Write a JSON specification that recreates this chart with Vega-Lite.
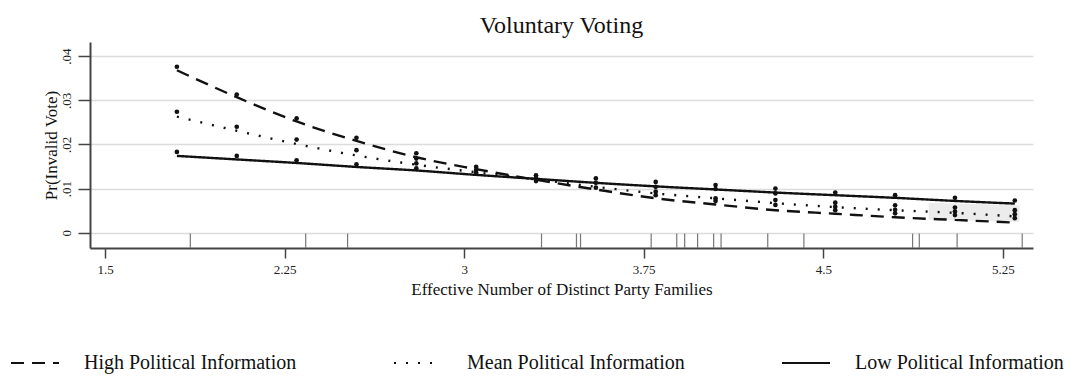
{
  "$schema": "https://vega.github.io/schema/vega-lite/v6.json",
  "width": 943,
  "height": 206,
  "autosize": {"type": "none"},
  "padding": {"left": 90, "top": 42, "right": 41, "bottom": 128},
  "background": "white",
  "title": {"text": "Voluntary Voting", "font": "Liberation Serif", "fontSize": 24, "fontWeight": "normal", "color": "#111", "anchor": "middle", "offset": 4},
  "config": {
    "view": {"stroke": null},
    "axis": {"labelFont": "Liberation Serif", "titleFont": "Liberation Serif", "labelColor": "#222", "titleColor": "#111", "titleFontWeight": "normal", "domainColor": "#444", "domainWidth": 2, "tickColor": "#444", "tickWidth": 1.5},
    "legend": {"labelFont": "Liberation Serif"}
  },
  "datasets": {
    "lines": [
      {"x": 1.8, "v": 0.0368, "s": "High Political Information"},
      {"x": 2.05, "v": 0.0307, "s": "High Political Information"},
      {"x": 2.3, "v": 0.0252, "s": "High Political Information"},
      {"x": 2.55, "v": 0.0208, "s": "High Political Information"},
      {"x": 2.8, "v": 0.0171, "s": "High Political Information"},
      {"x": 3.05, "v": 0.0144, "s": "High Political Information"},
      {"x": 3.3, "v": 0.0120, "s": "High Political Information"},
      {"x": 3.55, "v": 0.0098, "s": "High Political Information"},
      {"x": 3.8, "v": 0.0078, "s": "High Political Information"},
      {"x": 4.05, "v": 0.0064, "s": "High Political Information"},
      {"x": 4.3, "v": 0.0051, "s": "High Political Information"},
      {"x": 4.55, "v": 0.0043, "s": "High Political Information"},
      {"x": 4.8, "v": 0.0035, "s": "High Political Information"},
      {"x": 5.05, "v": 0.0029, "s": "High Political Information"},
      {"x": 5.3, "v": 0.0023, "s": "High Political Information"},
      {"x": 1.8, "v": 0.0263, "s": "Mean Political Information"},
      {"x": 2.05, "v": 0.0231, "s": "Mean Political Information"},
      {"x": 2.3, "v": 0.0201, "s": "Mean Political Information"},
      {"x": 2.55, "v": 0.0175, "s": "Mean Political Information"},
      {"x": 2.8, "v": 0.0154, "s": "Mean Political Information"},
      {"x": 3.05, "v": 0.0137, "s": "Mean Political Information"},
      {"x": 3.3, "v": 0.0121, "s": "Mean Political Information"},
      {"x": 3.55, "v": 0.0104, "s": "Mean Political Information"},
      {"x": 3.8, "v": 0.0089, "s": "Mean Political Information"},
      {"x": 4.05, "v": 0.0078, "s": "Mean Political Information"},
      {"x": 4.3, "v": 0.0067, "s": "Mean Political Information"},
      {"x": 4.55, "v": 0.0058, "s": "Mean Political Information"},
      {"x": 4.8, "v": 0.0051, "s": "Mean Political Information"},
      {"x": 5.05, "v": 0.0045, "s": "Mean Political Information"},
      {"x": 5.3, "v": 0.0037, "s": "Mean Political Information"},
      {"x": 1.8, "v": 0.0174, "s": "Low Political Information"},
      {"x": 2.05, "v": 0.0166, "s": "Low Political Information"},
      {"x": 2.3, "v": 0.0158, "s": "Low Political Information"},
      {"x": 2.55, "v": 0.0149, "s": "Low Political Information"},
      {"x": 2.8, "v": 0.0141, "s": "Low Political Information"},
      {"x": 3.05, "v": 0.0131, "s": "Low Political Information"},
      {"x": 3.3, "v": 0.0122, "s": "Low Political Information"},
      {"x": 3.55, "v": 0.0113, "s": "Low Political Information"},
      {"x": 3.8, "v": 0.0105, "s": "Low Political Information"},
      {"x": 4.05, "v": 0.0098, "s": "Low Political Information"},
      {"x": 4.3, "v": 0.0091, "s": "Low Political Information"},
      {"x": 4.55, "v": 0.0085, "s": "Low Political Information"},
      {"x": 4.8, "v": 0.0079, "s": "Low Political Information"},
      {"x": 5.05, "v": 0.0072, "s": "Low Political Information"},
      {"x": 5.3, "v": 0.0066, "s": "Low Political Information"}
    ],
    "dots": [
      {"x": 1.8, "v": 0.0376}, {"x": 1.8, "v": 0.0274}, {"x": 1.8, "v": 0.0183},
      {"x": 2.05, "v": 0.0313}, {"x": 2.05, "v": 0.0240}, {"x": 2.05, "v": 0.0174},
      {"x": 2.3, "v": 0.0259}, {"x": 2.3, "v": 0.0211}, {"x": 2.3, "v": 0.0164},
      {"x": 2.55, "v": 0.0215}, {"x": 2.55, "v": 0.0187}, {"x": 2.55, "v": 0.0155},
      {"x": 2.8, "v": 0.0180}, {"x": 2.8, "v": 0.0168}, {"x": 2.8, "v": 0.0157}, {"x": 2.8, "v": 0.0146},
      {"x": 3.05, "v": 0.0149}, {"x": 3.05, "v": 0.0142}, {"x": 3.05, "v": 0.0136},
      {"x": 3.3, "v": 0.0130}, {"x": 3.3, "v": 0.0124}, {"x": 3.3, "v": 0.0117},
      {"x": 3.55, "v": 0.0123}, {"x": 3.55, "v": 0.0113}, {"x": 3.55, "v": 0.0102},
      {"x": 3.8, "v": 0.0115}, {"x": 3.8, "v": 0.0104}, {"x": 3.8, "v": 0.0093}, {"x": 3.8, "v": 0.0085},
      {"x": 4.05, "v": 0.0108}, {"x": 4.05, "v": 0.0099}, {"x": 4.05, "v": 0.0078}, {"x": 4.05, "v": 0.0072},
      {"x": 4.3, "v": 0.0100}, {"x": 4.3, "v": 0.0089}, {"x": 4.3, "v": 0.0074}, {"x": 4.3, "v": 0.0063},
      {"x": 4.55, "v": 0.0091}, {"x": 4.55, "v": 0.0068}, {"x": 4.55, "v": 0.0059}, {"x": 4.55, "v": 0.0051},
      {"x": 4.8, "v": 0.0085}, {"x": 4.8, "v": 0.0062}, {"x": 4.8, "v": 0.0052}, {"x": 4.8, "v": 0.0044},
      {"x": 5.05, "v": 0.0079}, {"x": 5.05, "v": 0.0057}, {"x": 5.05, "v": 0.0048}, {"x": 5.05, "v": 0.0040},
      {"x": 5.3, "v": 0.0073}, {"x": 5.3, "v": 0.0051}, {"x": 5.3, "v": 0.0042}, {"x": 5.3, "v": 0.0033}
    ],
    "rug": [
      {"x": 1.856}, {"x": 2.338}, {"x": 2.513}, {"x": 3.323}, {"x": 3.469}, {"x": 3.486},
      {"x": 3.781}, {"x": 3.888}, {"x": 3.921}, {"x": 3.975}, {"x": 4.042}, {"x": 4.073},
      {"x": 4.268}, {"x": 4.419}, {"x": 4.873}, {"x": 4.901}, {"x": 5.059}, {"x": 5.331}
    ],
    "band": [
      {"x": 4.94, "lo": 0.0030, "hi": 0.0068},
      {"x": 5.32, "lo": 0.0024, "hi": 0.0062}
    ]
  },
  "layer": [
    {
      "data": {"name": "band"},
      "mark": {"type": "area", "color": "#ececec"},
      "encoding": {
        "x": {"field": "x", "type": "quantitative", "scale": {"domain": [1.437, 5.376], "nice": false, "zero": false},
          "axis": {"values": [1.5, 2.25, 3, 3.75, 4.5, 5.25], "labelExpr": "format(datum.value, '~g')", "grid": false, "tickSize": 10, "labelPadding": 5, "labelFontSize": 13, "title": "Effective Number of Distinct Party Families", "titleFontSize": 17, "titlePadding": 5}},
        "y": {"field": "lo", "type": "quantitative", "scale": {"domain": [-0.00346, 0.0432], "nice": false, "zero": false},
          "axis": {"values": [0, 0.01, 0.02, 0.03, 0.04], "labelExpr": "datum.value == 0 ? '0' : replace(format(datum.value, '.2f'), '0.', '.')", "grid": true, "gridColor": "#dcdcdc", "gridWidth": 1.5, "tickSize": 12, "labelPadding": 5, "labelAngle": -90, "labelAlign": "center", "labelBaseline": "bottom", "labelFontSize": 13, "title": "Pr(Invalid Vote)", "titleFontSize": 17, "titlePadding": 0}},
        "y2": {"field": "hi"}
      }
    },
    {
      "data": {"name": "rug"},
      "mark": {"type": "rule", "color": "#777", "strokeWidth": 1.2},
      "encoding": {
        "x": {"field": "x", "type": "quantitative"},
        "y": {"datum": -0.0002},
        "y2": {"datum": -0.00346}
      }
    },
    {
      "data": {"name": "lines"},
      "mark": {"type": "line", "color": "#111", "strokeWidth": 2.4, "interpolate": "monotone"},
      "encoding": {
        "x": {"field": "x", "type": "quantitative"},
        "y": {"field": "v", "type": "quantitative"},
        "detail": {"field": "s"},
        "strokeDash": {"field": "s", "type": "nominal",
          "scale": {"domain": ["High Political Information", "Mean Political Information", "Low Political Information"], "range": [[13, 8], [2, 10], [1, 0]]},
          "legend": {"orient": "none", "legendX": -80, "legendY": 296, "direction": "horizontal", "columns": 3, "columnPadding": 93, "title": null, "symbolType": "stroke", "symbolSize": 2304, "symbolStrokeWidth": 1.8, "symbolStrokeColor": "#111", "labelFontSize": 20, "labelColor": "#111", "labelOffset": 24, "labelLimit": 400, "padding": 0,
            "encode": {"symbols": {"enter": {"strokeDash": {"signal": "datum.value == 'High Political Information' ? [7, 6] : datum.value == 'Mean Political Information' ? [1.5, 5] : [1, 0]"}}, "update": {"strokeDash": {"signal": "datum.value == 'High Political Information' ? [7, 6] : datum.value == 'Mean Political Information' ? [1.5, 5] : [1, 0]"}}}}}}
      }
    },
    {
      "data": {"name": "dots"},
      "mark": {"type": "circle", "color": "#111", "size": 22, "opacity": 1},
      "encoding": {
        "x": {"field": "x", "type": "quantitative"},
        "y": {"field": "v", "type": "quantitative"}
      }
    }
  ]
}
